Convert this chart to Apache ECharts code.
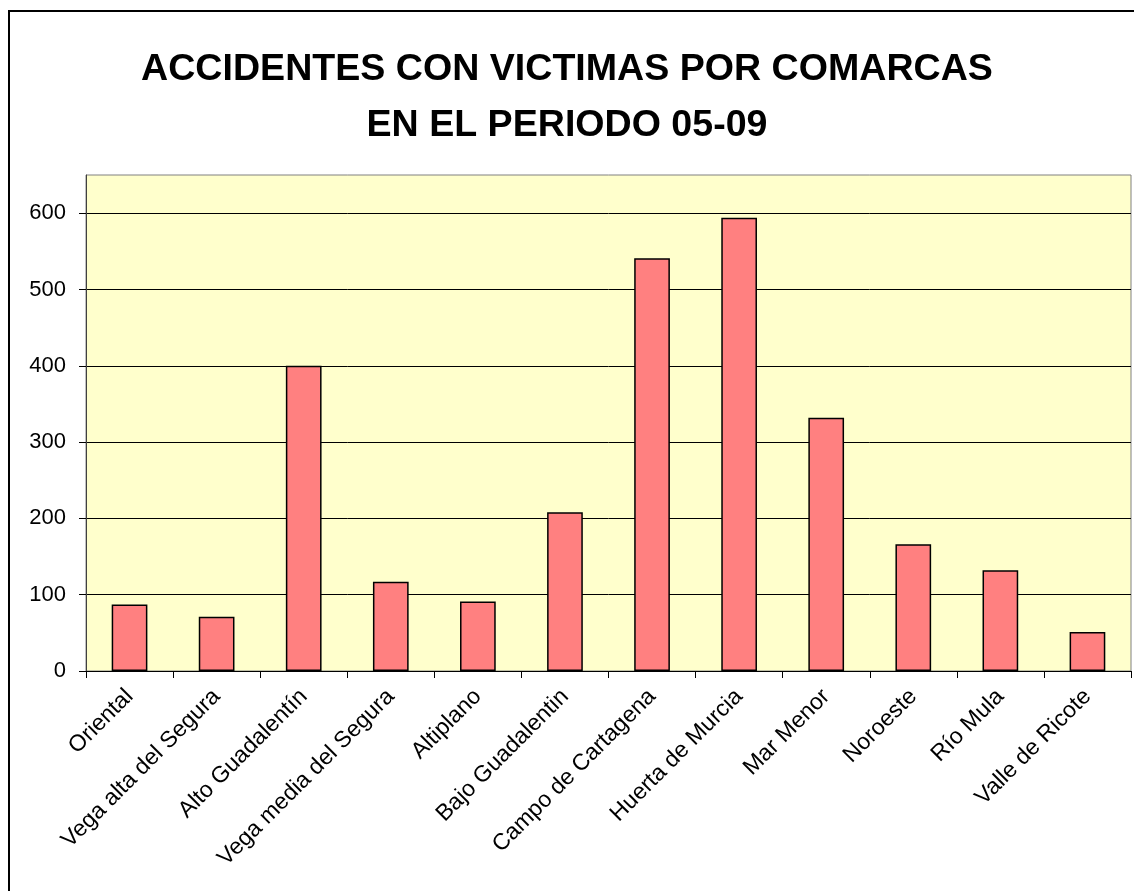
<!DOCTYPE html>
<html>
<head>
<meta charset="utf-8">
<script src="https://cdn.jsdelivr.net/npm/echarts@6/dist/echarts.min.js"></script>
<style>
  html, body { margin: 0; padding: 0; background: #fff; }
  #chart { width: 1134px; height: 891px; }
</style>
</head>
<body>
<div id="chart"></div>
<script>
var comarcas = ['Oriental', 'Vega alta del Segura', 'Alto Guadalentín', 'Vega media del Segura',
    'Altiplano', 'Bajo Guadalentin', 'Campo de Cartagena', 'Huerta de Murcia',
    'Mar Menor', 'Noroeste', 'Río Mula', 'Valle de Ricote'];
var accidentes = [87, 71, 400, 117, 91, 208, 541, 594, 332, 166, 132, 51];

var chart = echarts.init(document.getElementById('chart'));
var font = '"Liberation Sans", Arial, sans-serif';

var option = {
    backgroundColor: '#ffffff',
    animation: false,
    title: {
        text: 'ACCIDENTES CON VICTIMAS POR COMARCAS\nEN EL PERIODO 05-09',
        left: 'center',
        top: 37,
        textStyle: {
            fontFamily: font,
            fontSize: 37.6,
            fontWeight: 'bold',
            color: '#000',
            lineHeight: 56
        }
    },
    graphic: [{
        type: 'rect',
        shape: { x: 9, y: 11, width: 1300, height: 1000 },
        style: { fill: 'none', stroke: '#000', lineWidth: 2 },
        silent: true
    }],
    grid: {
        left: 86,
        right: 3,
        top: 175,
        bottom: 220,
        show: true,
        backgroundColor: '#FFFFCC',
        borderColor: '#808080',
        borderWidth: 1
    },
    xAxis: {
        type: 'category',
        data: comarcas,
        axisLine: { lineStyle: { color: '#000', width: 1 } },
        axisTick: { show: true, length: 7, lineStyle: { color: '#000' } },
        axisLabel: {
            rotate: 45,
            interval: 0,
            margin: 22,
            fontFamily: font,
            fontSize: 23,
            color: '#000'
        }
    },
    yAxis: {
        type: 'value',
        min: 0,
        max: 650,
        interval: 100,
        axisLine: { show: true, lineStyle: { color: '#404040' } },
        axisTick: { show: true, length: 7, lineStyle: { color: '#000' } },
        axisLabel: {
            showMaxLabel: false,
            margin: 20,
            fontFamily: font,
            fontSize: 22,
            color: '#000',
            formatter: function (v) { return v % 100 === 0 ? v : ''; }
        },
        splitLine: { show: true, showMaxLine: false, lineStyle: { color: '#000', width: 1 } }
    },
    series: [{
        type: 'bar',
        data: accidentes,
        barWidth: '41%',
        itemStyle: {
            color: '#FF8080',
            borderColor: '#000',
            borderWidth: 1.5
        }
    }]
};

chart.setOption(option);
</script>
</body>
</html>
